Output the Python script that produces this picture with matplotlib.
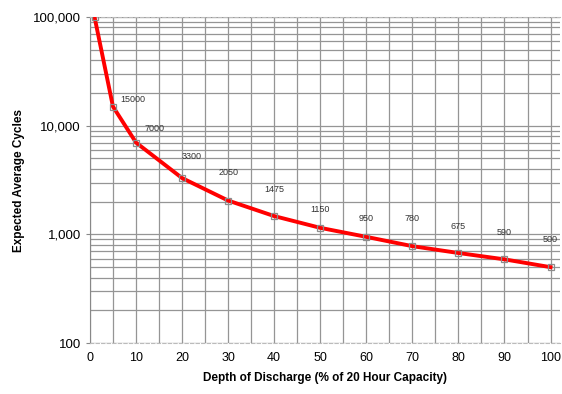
import matplotlib.pyplot as plt
from matplotlib.ticker import FixedLocator, LogLocator, FuncFormatter, NullFormatter

plt.rcParams['font.family'] = ['Liberation Sans', 'DejaVu Sans']

# Depth of discharge (%) and expected cycle life
dod = [1, 5, 10, 20, 30, 40, 50, 60, 70, 80, 90, 100]
cycles = [100000, 15000, 7000, 3300, 2050, 1475, 1150, 950, 780, 675, 590, 500]
point_labels = ["", "15000", "7000", "3300", "2050", "1475", "1150", "950", "780", "675", "590", "500"]
# label offsets in points (dx, dy) from each point
label_offsets = [(0, 0), (14, 2), (13, 7), (7, 12), (0, 17), (0, 16), (0, 10),
                 (0, 10), (0, 17), (0, 16), (0, 16), (0, 17)]

x_ticks = [0, 10, 20, 30, 40, 50, 60, 70, 80, 90, 100]
y_ticks = [100, 1000, 10000, 100000]

fig = plt.figure(figsize=(5.62, 3.94), dpi=100)
ax = fig.add_axes([0.160, 0.129, 0.836, 0.828])

ax.set_yscale('log')
ax.set_xlim(0, 102)
ax.set_ylim(100, 100000)

grid_color = '#959595'
ax.xaxis.set_major_locator(FixedLocator(x_ticks))
ax.xaxis.set_minor_locator(FixedLocator(list(range(5, 101, 10))))
ax.yaxis.set_major_locator(FixedLocator(y_ticks))
ax.yaxis.set_minor_locator(LogLocator(base=10, subs=range(2, 10)))
ax.yaxis.set_minor_formatter(NullFormatter())
ax.yaxis.set_major_formatter(FuncFormatter(lambda v, p: f"{int(v):,}"))

ax.grid(True, which='both', axis='both', color=grid_color, linewidth=0.9)
ax.set_axisbelow(True)

ax.plot(dod, cycles, color='#ff0000', linewidth=2.8, zorder=3)
ax.plot(dod, cycles, linestyle='none', marker='s', markersize=4.5,
        markerfacecolor='none', markeredgecolor='#8c8c8c', markeredgewidth=0.9, zorder=4)

for x, y, t, off in zip(dod, cycles, point_labels, label_offsets):
    if t:
        ax.annotate(t, (x, y), xytext=off, textcoords='offset points',
                    ha='center', va='bottom', fontsize=6.5, color='#333333')

for s in ['top', 'bottom', 'right']:
    ax.spines[s].set_color('#bbbbbb')
    ax.spines[s].set_linestyle((0, (3, 2)))
    ax.spines[s].set_linewidth(0.8)
ax.spines['right'].set_visible(False)
ax.spines['left'].set_color('#888888')

ax.tick_params(axis='x', which='both', length=0, labelsize=9, pad=6)
ax.tick_params(axis='y', which='major', length=3, color='#888888', labelsize=9.5)
ax.tick_params(axis='y', which='minor', length=0)

ax.set_xlabel("Depth of Discharge (% of 20 Hour Capacity)", fontsize=8.5, fontweight='bold', labelpad=6)
ax.set_ylabel("Expected Average Cycles", fontsize=8.5, fontweight='bold', labelpad=6)

fig.savefig("out.png", dpi=100)
